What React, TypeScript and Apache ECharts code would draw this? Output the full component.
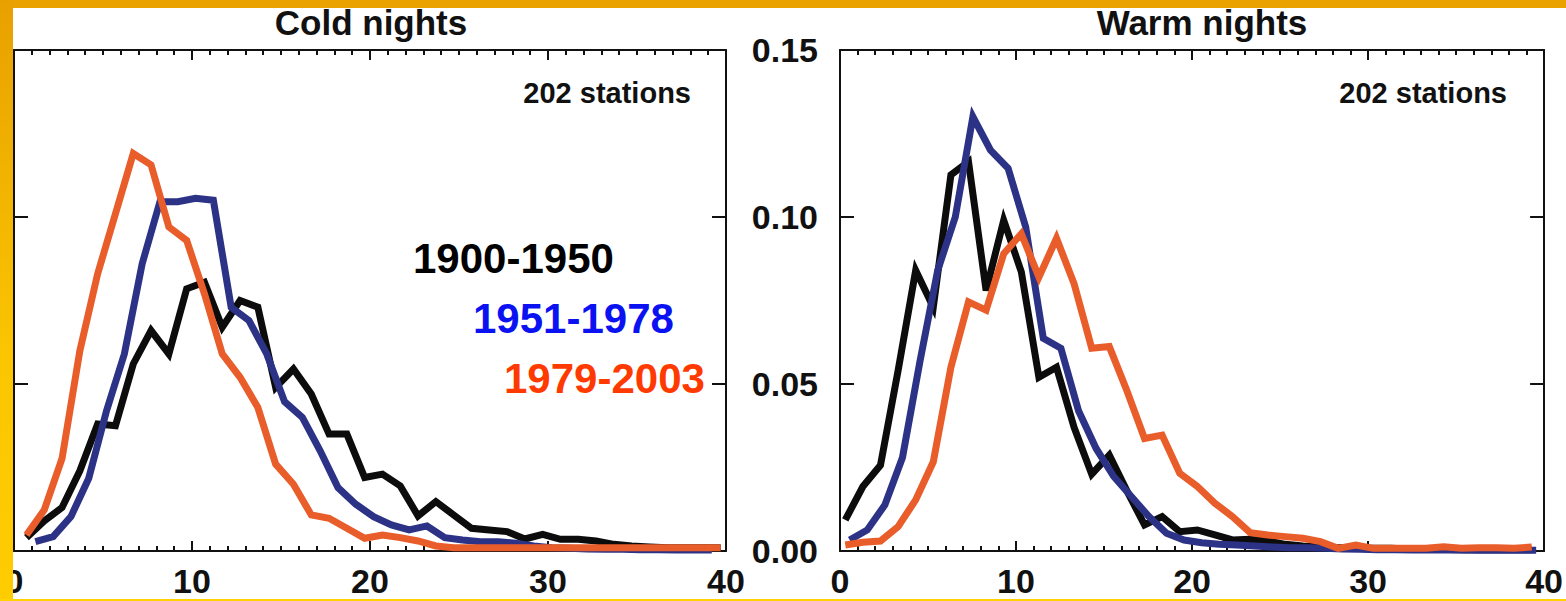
import React, { useEffect, useRef } from 'react';
import * as echarts from 'echarts';

const FONT = '"Liberation Sans", Arial, Helvetica, sans-serif';

// x positions of the histogram points (days)
const X_COLD_A = [0.7, 1.7, 2.7, 3.7, 4.7, 5.7, 6.7, 7.7, 8.7, 9.7, 10.7, 11.7, 12.7, 13.7, 14.7, 15.7, 16.7, 17.7, 18.7, 19.7, 20.7, 21.7, 22.7, 23.7, 24.7, 25.7, 26.7, 27.7, 28.7, 29.7, 30.7, 31.7, 32.7, 33.7, 34.7, 35.7, 36.7, 37.7, 38.7, 39.7];
const X_COLD_B = [1.2, 2.2, 3.2, 4.2, 5.2, 6.2, 7.2, 8.2, 9.2, 10.2, 11.2, 12.2, 13.2, 14.2, 15.2, 16.2, 17.2, 18.2, 19.2, 20.2, 21.2, 22.2, 23.2, 24.2, 25.2, 26.2, 27.2, 28.2, 29.2, 30.2, 31.2, 32.2, 33.2, 34.2, 35.2, 36.2, 37.2, 38.2, 39.2];
const X_WARM_A = [0.3, 1.3, 2.3, 3.3, 4.3, 5.3, 6.3, 7.3, 8.3, 9.3, 10.3, 11.3, 12.3, 13.3, 14.3, 15.3, 16.3, 17.3, 18.3, 19.3, 20.3, 21.3, 22.3, 23.3, 24.3, 25.3, 26.3, 27.3, 28.3, 29.3, 30.3, 31.3, 32.3, 33.3, 34.3, 35.3, 36.3, 37.3, 38.3, 39.3];
const X_WARM_B = [0.55, 1.55, 2.55, 3.55, 4.55, 5.55, 6.55, 7.55, 8.55, 9.55, 10.55, 11.55, 12.55, 13.55, 14.55, 15.55, 16.55, 17.55, 18.55, 19.55, 20.55, 21.55, 22.55, 23.55, 24.55, 25.55, 26.55, 27.55, 28.55, 29.55, 30.55, 31.55, 32.55, 33.55, 34.55, 35.55, 36.55, 37.55, 38.55, 39.55];

// Cold nights
const COLD_1900_1950 = [0.004, 0.009, 0.013, 0.024, 0.038, 0.0375, 0.056, 0.066, 0.059, 0.0785, 0.0805, 0.067, 0.075, 0.073, 0.049, 0.0545, 0.047, 0.035, 0.035, 0.022, 0.023, 0.0195, 0.0105, 0.0148, 0.0108, 0.0068, 0.0063, 0.0058, 0.0036, 0.005, 0.0035, 0.0035, 0.003, 0.002, 0.0015, 0.0012, 0.001, 0.001, 0.001, 0.001];
const COLD_1951_1978 = [0.0028, 0.0043, 0.0103, 0.0218, 0.042, 0.059, 0.086, 0.1046, 0.1046, 0.1056, 0.105, 0.073, 0.069, 0.059, 0.0447, 0.04, 0.03, 0.019, 0.014, 0.0103, 0.0078, 0.0063, 0.0075, 0.004, 0.0033, 0.0028, 0.0028, 0.0023, 0.0015, 0.001, 0.0008, 0.0006, 0.0005, 0.0005, 0.0004, 0.0004, 0.0003, 0.0003, 0.0003];
const COLD_1979_2003 = [0.0048, 0.0123, 0.0277, 0.06, 0.083, 0.101, 0.119, 0.1156, 0.097, 0.093, 0.077, 0.059, 0.052, 0.043, 0.026, 0.02, 0.0108, 0.0098, 0.0068, 0.0038, 0.0048, 0.004, 0.003, 0.0015, 0.001, 0.001, 0.001, 0.001, 0.001, 0.001, 0.001, 0.001, 0.001, 0.001, 0.001, 0.001, 0.001, 0.001, 0.001, 0.001];

// Warm nights
const WARM_1900_1950 = [0.0093, 0.0193, 0.0257, 0.054, 0.084, 0.073, 0.1126, 0.1166, 0.078, 0.099, 0.0836, 0.052, 0.055, 0.037, 0.023, 0.0287, 0.018, 0.0078, 0.0103, 0.0058, 0.0063, 0.0048, 0.0033, 0.0035, 0.003, 0.002, 0.0015, 0.0012, 0.001, 0.001, 0.0008, 0.0008, 0.0006, 0.0006, 0.0005, 0.0005, 0.0004, 0.0004, 0.0004, 0.0004];
const WARM_1951_1978 = [0.0033, 0.0063, 0.0138, 0.028, 0.057, 0.084, 0.1, 0.13, 0.12, 0.1146, 0.097, 0.0637, 0.0607, 0.042, 0.0307, 0.0223, 0.0163, 0.0103, 0.0053, 0.0033, 0.0025, 0.002, 0.0018, 0.0015, 0.0012, 0.001, 0.001, 0.0008, 0.0006, 0.0005, 0.0004, 0.0004, 0.0003, 0.0003, 0.0003, 0.0002, 0.0002, 0.0002, 0.0002, 0.0002];
const WARM_1979_2003 = [0.0018, 0.0026, 0.003, 0.0073, 0.0153, 0.0267, 0.055, 0.0746, 0.0721, 0.089, 0.095, 0.082, 0.0936, 0.08, 0.0607, 0.0612, 0.048, 0.0337, 0.0347, 0.0233, 0.0193, 0.0143, 0.0103, 0.0055, 0.0048, 0.0043, 0.0038, 0.0028, 0.0008, 0.0018, 0.0008, 0.0008, 0.0008, 0.0008, 0.0013, 0.0008, 0.001, 0.001, 0.0008, 0.0012];

const PERIODS = ['1900-1950', '1951-1978', '1979-2003'];
const LINE_COLORS = ['#0b0c0b', '#2c3285', '#e85d2a'];
const LABEL_COLORS = ['#000000', '#0a12f2', '#ff3a00'];
const PANEL_TITLES = ['Cold nights', 'Warm nights'];
const STATIONS_TEXT = '202 stations';

const X_MIN = 0, X_MAX = 40, X_INTERVAL = 10;
const Y_MIN = 0, Y_MAX = 0.15, Y_INTERVAL = 0.05;

export default function App() {
  const ref = useRef<HTMLDivElement>(null);

  useEffect(() => {
    const chart = echarts.init(ref.current!, null, { renderer: 'svg' });
    const pair = (xs: number[], ys: number[]) => ys.map((y, i) => [xs[i], y]);
    const axisColor = '#111';

    const xAxis = (gridIndex: number, position: string, showLabel: boolean) => ({
      type: 'value', gridIndex, position, min: X_MIN, max: X_MAX, interval: X_INTERVAL,
      axisLine: { show: true, onZero: false, lineStyle: { color: axisColor, width: 2 } },
      axisTick: { show: true, inside: true, length: 10, lineStyle: { color: axisColor, width: 2 } },
      minorTick: { show: true, splitNumber: 10, length: 5, lineStyle: { color: axisColor, width: 2 } },
      splitLine: { show: false },
      minorSplitLine: { show: false },
      axisLabel: {
        show: showLabel, margin: 17, lineHeight: 26, fontSize: 34, fontWeight: 'bold',
        color: axisColor, fontFamily: FONT,
      },
    });
    const yAxis = (gridIndex: number, position: string, showLabel: boolean) => ({
      type: 'value', gridIndex, position, min: Y_MIN, max: Y_MAX, interval: Y_INTERVAL,
      axisLine: { show: true, onZero: false, lineStyle: { color: axisColor, width: 2 } },
      axisTick: { show: true, inside: true, length: 14, lineStyle: { color: axisColor, width: 2 } },
      splitLine: { show: false },
      axisLabel: {
        show: showLabel, margin: 22, fontSize: 34, fontWeight: 'bold', color: axisColor, fontFamily: FONT,
        formatter: (v: number) => v.toFixed(2),
      },
    });

    const lineSeries = (name: string, data: number[][], axisIdx: number, color: string) => ({
      name, type: 'line', xAxisIndex: axisIdx, yAxisIndex: axisIdx, data, showSymbol: false, symbol: 'none',
      lineStyle: { color, width: 7, join: 'miter', miterLimit: 4 },
      z: 2,
    });

    const coldSets = [pair(X_COLD_A, COLD_1900_1950), pair(X_COLD_B, COLD_1951_1978), pair(X_COLD_A, COLD_1979_2003)];
    const warmSets = [pair(X_WARM_A, WARM_1900_1950), pair(X_WARM_B, WARM_1951_1978), pair(X_WARM_A, WARM_1979_2003)];

    const titleStyle = { fontSize: 35, fontWeight: 'bold', fill: '#111', font: `bold 35px ${FONT}` };
    const stationStyle = { fontSize: 29, fontWeight: 'bold', fill: '#111', font: `bold 29px ${FONT}` };

    chart.setOption({
      animation: false,
      backgroundColor: '#ffffff',
      grid: [
        { left: 14, top: 50, width: 712, height: 501, containLabel: false },
        { left: 840, top: 50, width: 712, height: 501, containLabel: false },
      ],
      xAxis: [xAxis(0, 'bottom', true), xAxis(0, 'top', false), xAxis(1, 'bottom', true), xAxis(1, 'top', false)],
      yAxis: [yAxis(0, 'left', false), yAxis(0, 'right', false), yAxis(1, 'left', true), yAxis(1, 'right', false)],
      series: [
        ...coldSets.map((d, i) => lineSeries('Cold ' + PERIODS[i], d, 0, LINE_COLORS[i])),
        ...warmSets.map((d, i) => lineSeries('Warm ' + PERIODS[i], d, 2, LINE_COLORS[i])),
      ],
      graphic: [
        { type: 'text', x: 371, y: 22.5, z: 50, style: { ...titleStyle, text: PANEL_TITLES[0], textAlign: 'center', textVerticalAlign: 'middle' } },
        { type: 'text', x: 1202, y: 22.5, z: 50, style: { ...titleStyle, text: PANEL_TITLES[1], textAlign: 'center', textVerticalAlign: 'middle' } },
        { type: 'text', x: 691, y: 93, z: 50, style: { ...stationStyle, text: STATIONS_TEXT, textAlign: 'right', textVerticalAlign: 'middle' } },
        { type: 'text', x: 1507, y: 93, z: 50, style: { ...stationStyle, text: STATIONS_TEXT, textAlign: 'right', textVerticalAlign: 'middle' } },
        ...PERIODS.map((p, i) => ({
          type: 'text', x: [413, 473, 504][i], y: [258, 318, 378][i], z: 50,
          style: { text: p, fill: LABEL_COLORS[i], font: `bold 42px ${FONT}`, fontSize: 42, fontWeight: 'bold', textAlign: 'left', textVerticalAlign: 'middle' },
        })),
        { type: 'rect', z: 100, shape: { x: 0, y: 0, width: 1566, height: 8 }, style: { fill: '#E9A200' } },
        {
          type: 'rect', z: 100, shape: { x: 0, y: 0, width: 13, height: 601 },
          style: {
            fill: new echarts.graphic.LinearGradient(0, 0, 0, 1, [
              { offset: 0, color: '#E8A000' },
              { offset: 0.6, color: '#FBC600' },
              { offset: 1, color: '#FFCC00' },
            ]),
          },
        },
        { type: 'rect', z: 100, shape: { x: 0, y: 599, width: 1566, height: 2 }, style: { fill: '#FFD200' } },
      ],
    });

    return () => chart.dispose();
  }, []);

  return <div ref={ref} style={{ position: 'fixed', left: 0, top: 0, width: 1566, height: 601, background: '#fff' }} />;
}
